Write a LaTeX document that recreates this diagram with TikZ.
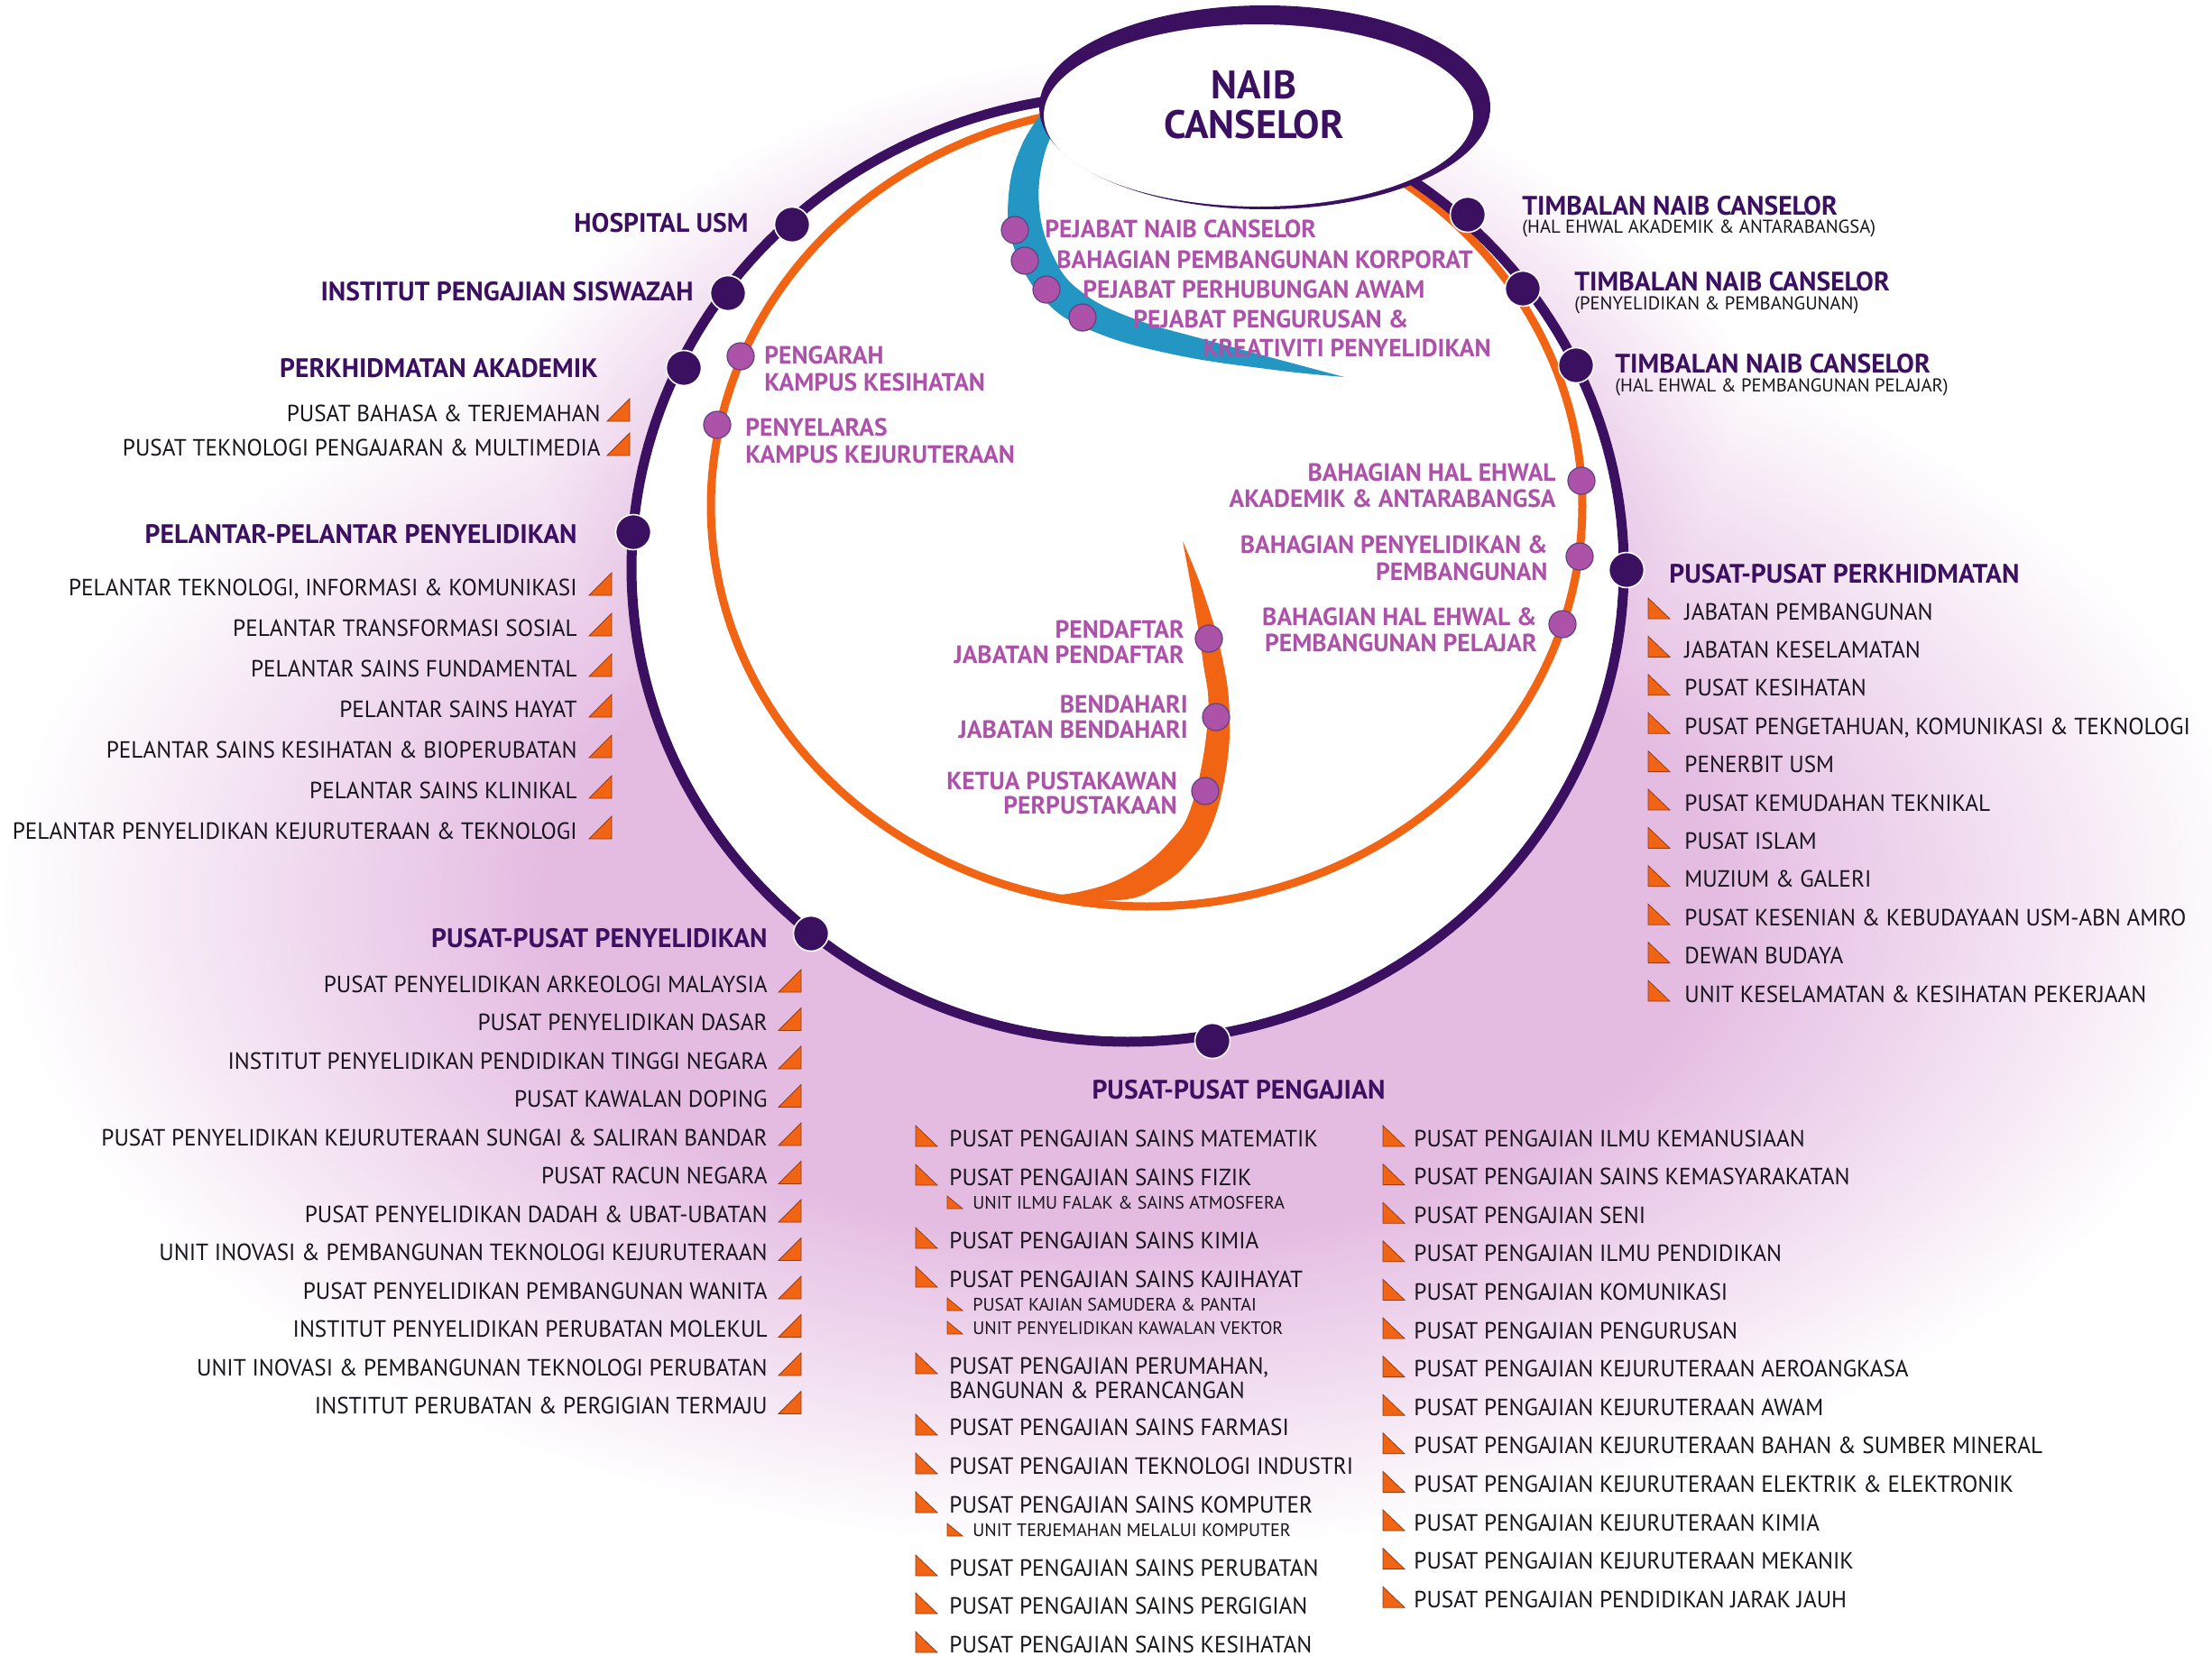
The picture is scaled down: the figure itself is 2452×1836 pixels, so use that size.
\documentclass[tikz,border=0pt]{standalone}
\usepackage{fontspec}
\setmainfont{PT Sans}
\newfontfamily\itemf{PT Sans}[FakeStretch=0.97]
\definecolor{darkp}{RGB}{60,16,96}
\definecolor{lilac}{RGB}{172,82,168}
\definecolor{orng}{RGB}{240,100,20}
\definecolor{blu}{RGB}{35,150,195}
\definecolor{glowc}{RGB}{228,188,226}
\definecolor{txt}{RGB}{25,20,30}
\definecolor{trid}{RGB}{150,60,20}
\pgfdeclareradialshading{glow}{\pgfpoint{0bp}{0bp}}{color(0bp)=(glowc); color(13bp)=(glowc); color(25bp)=(white); color(50bp)=(white)}
\pgfdeclareradialshading{halo}{\pgfpoint{0bp}{0bp}}{color(0bp)=(glowc); color(16bp)=(glowc); color(25bp)=(white); color(50bp)=(white)}
\tikzset{
 item/.style={font=\itemf\fontsize{13}{15}\selectfont, text=txt, inner sep=0pt},
 head/.style={font=\fontsize{14.8}{17}\selectfont\bfseries, text=darkp, inner sep=0pt},
 lil/.style={font=\fontsize{13.8}{15}\selectfont\bfseries, text=lilac, inner sep=0pt},
 subit/.style={font=\fontsize{10}{12}\selectfont, text=txt, inner sep=0pt},
 tsub/.style={font=\fontsize{10.3}{12}\selectfont, text=txt, inner sep=0pt},
 naibf/.style={font=\fontsize{22}{24}\selectfont\bfseries, text=darkp, inner sep=0pt, anchor=base},
 ddot/.style={circle, fill=darkp, draw=white, line width=0.8pt, minimum size=19.5pt, inner sep=0pt},
 ldot/.style={circle, fill=lilac, draw=darkp!80, line width=0.6pt, minimum size=15pt, inner sep=0pt},
 tri/.style={fill=orng, draw=trid, line width=0.4pt},
}
\newcommand\triL[2]{\filldraw[tri] ({#1-25},{#2}) -- ({#1},{#2}) -- ({#1},{#2-25}) -- cycle;}
\newcommand\triR[2]{\filldraw[tri] ({#1},{#2-23}) -- ({#1},{#2}) -- ({#1+24},{#2}) -- cycle;}
\newcommand\triS[2]{\filldraw[tri] ({#1},{#2-14}) -- ({#1},{#2}) -- ({#1+17},{#2}) -- cycle;}
\begin{document}
\begin{tikzpicture}[x=0.5pt,y=-0.5pt]
\useasboundingbox (0,0) rectangle (2452,1836);
\fill[white] (0,0) rectangle (2452,1836);
\shade[shading=glow] (1250,1000) ellipse [x radius=625pt, y radius=360pt];
\shade[shading=halo, blend mode=darken] (1250,800) ellipse [x radius=410pt, y radius=370pt];
% white interior
\fill[white] plot[domain=0:360, samples=241] ({1250+550*cos(\x)},{630+525*sin(\x)}) -- cycle;
% inner orange swoosh
\fill[orng] plot[smooth, tension=0.7] coordinates {(1311,600) (1335,660) (1355,730) (1363,795) (1358,860) (1342,918) (1318,955) (1285,982) (1240,998) (1150,994)}
 -- plot[smooth, tension=0.7] coordinates {(1150,994) (1200,988) (1250,970) (1294,936) (1322,890) (1339,795) (1333,730) (1322,660) (1311,600)} -- cycle;
% orange ring
\draw[orng, line width=4.5pt] plot[domain=0:360, samples=241] ({1271+483*cos(\x)},{561+444*sin(\x)}) -- cycle;
% dark ring
\draw[darkp, line width=5.5pt] plot[domain=0:360, samples=241] ({1250+550*cos(\x)},{630+525*sin(\x)}) -- cycle;
% blue swoosh
\fill[blu] plot[smooth, tension=0.7] coordinates {(1165,112) (1133,160) (1118,217) (1124,275) (1158,333) (1211,367) (1301,393) (1412,410) (1490,418)}
 -- plot[smooth, tension=0.7] coordinates {(1490,418) (1345,379) (1256,353) (1198,323) (1168,285) (1152,230) (1158,170) (1180,125)} -- cycle;
% NAIB CANSELOR ellipse
\fill[darkp] (1402,119) ellipse [x radius=125pt, y radius=56.5pt];
\fill[white] (1395,128) ellipse [x radius=119pt, y radius=50.5pt];
\node[naibf] (naib1) at (1390,109) {NAIB};
\node[naibf] (naib2) at (1390,153) {CANSELOR};

% dark dots
\node[ddot] (dhosp) at (878,249) {};
\node[ddot] (dips) at (807,325) {};
\node[ddot] (dpa) at (758,408) {};
\node[ddot] (dpel) at (702,590) {};
\node[ddot] (dppy) at (899,1035) {};
\node[ddot] (dppg) at (1344,1154) {};
\node[ddot] (dppk) at (1803,632) {};
\node[ddot] (dtnc1) at (1627,238) {};
\node[ddot] (dtnc2) at (1688,320) {};
\node[ddot] (dtnc3) at (1747,405) {};
% lilac dots
\node[ldot] (b1) at (1125,255) {};
\node[ldot] (b2) at (1136,289) {};
\node[ldot] (b3) at (1160,321) {};
\node[ldot] (b4) at (1200,352) {};
\node[ldot] (r1) at (821,395) {};
\node[ldot] (r2) at (795,471) {};
\node[ldot] (r3) at (1753,533) {};
\node[ldot] (r4) at (1751,617) {};
\node[ldot] (r5) at (1732,692) {};
\node[ldot] (s1) at (1340,708) {};
\node[ldot] (s2) at (1348,795) {};
\node[ldot] (s3) at (1336,877) {};

% headings
\node[head, anchor=base east] (lhosp) at (830,257) {HOSPITAL USM};
\node[head, anchor=base east] (lips) at (769,333) {INSTITUT PENGAJIAN SISWAZAH};
\node[head, anchor=base east] (lpa) at (663,418) {PERKHIDMATAN AKADEMIK};
\node[head, anchor=base east] (lpel) at (640,602) {PELANTAR-PELANTAR PENYELIDIKAN};
\node[head, anchor=base east] (lppy) at (851,1050) {PUSAT-PUSAT PENYELIDIKAN};
\node[head, anchor=base west] (ltnc1) at (1687,238) {TIMBALAN NAIB CANSELOR};
\node[tsub, anchor=base west] (stnc1) at (1687,258) {(HAL EHWAL AKADEMIK \& ANTARABANGSA)};
\node[head, anchor=base west] (ltnc2) at (1745,322) {TIMBALAN NAIB CANSELOR};
\node[tsub, anchor=base west] (stnc2) at (1745,343) {(PENYELIDIKAN \& PEMBANGUNAN)};
\node[head, anchor=base west] (ltnc3) at (1790,413) {TIMBALAN NAIB CANSELOR};
\node[tsub, anchor=base west] (stnc3) at (1790,434) {(HAL EHWAL \& PEMBANGUNAN PELAJAR)};
\node[head, anchor=base west] (lppk) at (1850,646) {PUSAT-PUSAT PERKHIDMATAN};
\node[head, anchor=base] (lppg) at (1373,1218) {PUSAT-PUSAT PENGAJIAN};

% lilac labels
\node[lil, anchor=base west] (tb1) at (1158,263) {PEJABAT NAIB CANSELOR};
\node[lil, anchor=base west] (tb2) at (1171,297) {BAHAGIAN PEMBANGUNAN KORPORAT};
\node[lil, anchor=base west] (tb3) at (1200,330) {PEJABAT PERHUBUNGAN AWAM};
\node[lil, anchor=base west] (tb4) at (1256,363) {PEJABAT PENGURUSAN \&};
\node[lil, anchor=base east] (tb5) at (1653,395) {KREATIVITI PENYELIDIKAN};
\node[lil, anchor=base west] (tr1a) at (847,403) {PENGARAH};
\node[lil, anchor=base west] (tr1b) at (847,433) {KAMPUS KESIHATAN};
\node[lil, anchor=base west] (tr2a) at (826,483) {PENYELARAS};
\node[lil, anchor=base west] (tr2b) at (826,513) {KAMPUS KEJURUTERAAN};
\node[lil, anchor=base east] (tr3a) at (1725,533) {BAHAGIAN HAL EHWAL};
\node[lil, anchor=base east] (tr3b) at (1725,562) {AKADEMIK \& ANTARABANGSA};
\node[lil, anchor=base east] (tr4a) at (1716,613) {BAHAGIAN PENYELIDIKAN \&};
\node[lil, anchor=base east] (tr4b) at (1716,643) {PEMBANGUNAN};
\node[lil, anchor=base east] (tr5a) at (1704,693) {BAHAGIAN HAL EHWAL \&};
\node[lil, anchor=base east] (tr5b) at (1704,722) {PEMBANGUNAN PELAJAR};
\node[lil, anchor=base east] (ts1a) at (1313,707) {PENDAFTAR};
\node[lil, anchor=base east] (ts1b) at (1313,735) {JABATAN PENDAFTAR};
\node[lil, anchor=base east] (ts2a) at (1317,790) {BENDAHARI};
\node[lil, anchor=base east] (ts2b) at (1317,818) {JABATAN BENDAHARI};
\node[lil, anchor=base east] (ts3a) at (1305,875) {KETUA PUSTAKAWAN};
\node[lil, anchor=base east] (ts3b) at (1305,902) {PERPUSTAKAAN};

% Perkhidmatan Akademik list
\node[item, anchor=base east] (pa0) at (666,467) {PUSAT BAHASA \& TERJEMAHAN};
\triL{698}{467}
\node[item, anchor=base east] (pa1) at (666,505) {PUSAT TEKNOLOGI PENGAJARAN \& MULTIMEDIA};
\triL{698}{505}

% Pelantar list
\foreach \t [count=\i from 0] in {{PELANTAR TEKNOLOGI, INFORMASI \& KOMUNIKASI}, PELANTAR TRANSFORMASI SOSIAL, PELANTAR SAINS FUNDAMENTAL, PELANTAR SAINS HAYAT, {PELANTAR SAINS KESIHATAN \& BIOPERUBATAN}, PELANTAR SAINS KLINIKAL, {PELANTAR PENYELIDIKAN KEJURUTERAAN \& TEKNOLOGI}}{
 \pgfmathsetmacro\yy{660+45*\i}
 \node[item, anchor=base east] (pl\i) at (640,\yy) {\t};
 \triL{678}{\yy}
}

% Penyelidikan list
\foreach \t [count=\i from 0] in {PUSAT PENYELIDIKAN ARKEOLOGI MALAYSIA, PUSAT PENYELIDIKAN DASAR, INSTITUT PENYELIDIKAN PENDIDIKAN TINGGI NEGARA, PUSAT KAWALAN DOPING, {PUSAT PENYELIDIKAN KEJURUTERAAN SUNGAI \& SALIRAN BANDAR}, PUSAT RACUN NEGARA, {PUSAT PENYELIDIKAN DADAH \& UBAT-UBATAN}, {UNIT INOVASI \& PEMBANGUNAN TEKNOLOGI KEJURUTERAAN}, PUSAT PENYELIDIKAN PEMBANGUNAN WANITA, INSTITUT PENYELIDIKAN PERUBATAN MOLEKUL, {UNIT INOVASI \& PEMBANGUNAN TEKNOLOGI PERUBATAN}, {INSTITUT PERUBATAN \& PERGIGIAN TERMAJU}}{
 \pgfmathsetmacro\yy{1100+42.5*\i}
 \node[item, anchor=base east] (py\i) at (851,\yy) {\t};
 \triL{888}{\yy}
}

% Perkhidmatan list
\foreach \t [count=\i from 0] in {JABATAN PEMBANGUNAN, JABATAN KESELAMATAN, PUSAT KESIHATAN, {PUSAT PENGETAHUAN, KOMUNIKASI \& TEKNOLOGI}, PENERBIT USM, PUSAT KEMUDAHAN TEKNIKAL, PUSAT ISLAM, {MUZIUM \& GALERI}, {PUSAT KESENIAN \& KEBUDAYAAN USM-ABN AMRO}, DEWAN BUDAYA, {UNIT KESELAMATAN \& KESIHATAN PEKERJAAN}}{
 \pgfmathsetmacro\yy{687+42.4*\i}
 \node[item, anchor=base west] (pk\i) at (1867,\yy) {\t};
 \triR{1827}{\yy-1}
}

% Pengajian column 1
\foreach \yy/\t [count=\i] in {1271/PUSAT PENGAJIAN SAINS MATEMATIK, 1314/PUSAT PENGAJIAN SAINS FIZIK, 1384/PUSAT PENGAJIAN SAINS KIMIA, 1427/PUSAT PENGAJIAN SAINS KAJIHAYAT, {1523}/{PUSAT PENGAJIAN PERUMAHAN,}, 1591/PUSAT PENGAJIAN SAINS FARMASI, 1634/PUSAT PENGAJIAN TEKNOLOGI INDUSTRI, 1677/PUSAT PENGAJIAN SAINS KOMPUTER, 1747/PUSAT PENGAJIAN SAINS PERUBATAN, 1789/PUSAT PENGAJIAN SAINS PERGIGIAN, 1832/PUSAT PENGAJIAN SAINS KESIHATAN}{
 \node[item, anchor=base west] (pg\i) at (1052,\yy) {\t};
 \triR{1015}{\yy}
}
\node[item, anchor=base west] (pg5b) at (1052,1550) {BANGUNAN \& PERANCANGAN};
\foreach \yy/\t [count=\i] in {1340/{UNIT ILMU FALAK \& SAINS ATMOSFERA}, 1453/{PUSAT KAJIAN SAMUDERA \& PANTAI}, 1479/UNIT PENYELIDIKAN KAWALAN VEKTOR, 1703/UNIT TERJEMAHAN MELALUI KOMPUTER}{
 \node[subit, anchor=base west] (ps\i) at (1078,\yy) {\t};
 \triS{1050}{\yy}
}

% Pengajian column 2
\foreach \t [count=\i from 0] in {PUSAT PENGAJIAN ILMU KEMANUSIAAN, PUSAT PENGAJIAN SAINS KEMASYARAKATAN, PUSAT PENGAJIAN SENI, PUSAT PENGAJIAN ILMU PENDIDIKAN, PUSAT PENGAJIAN KOMUNIKASI, PUSAT PENGAJIAN PENGURUSAN, PUSAT PENGAJIAN KEJURUTERAAN AEROANGKASA, PUSAT PENGAJIAN KEJURUTERAAN AWAM, {PUSAT PENGAJIAN KEJURUTERAAN BAHAN \& SUMBER MINERAL}, {PUSAT PENGAJIAN KEJURUTERAAN ELEKTRIK \& ELEKTRONIK}, PUSAT PENGAJIAN KEJURUTERAAN KIMIA, PUSAT PENGAJIAN KEJURUTERAAN MEKANIK, PUSAT PENGAJIAN PENDIDIKAN JARAK JAUH}{
 \pgfmathsetmacro\yy{1271+42.6*\i}
 \node[item, anchor=base west] (pq\i) at (1567,\yy) {\t};
 \triR{1533}{\yy}
}
\end{tikzpicture}
\end{document}
